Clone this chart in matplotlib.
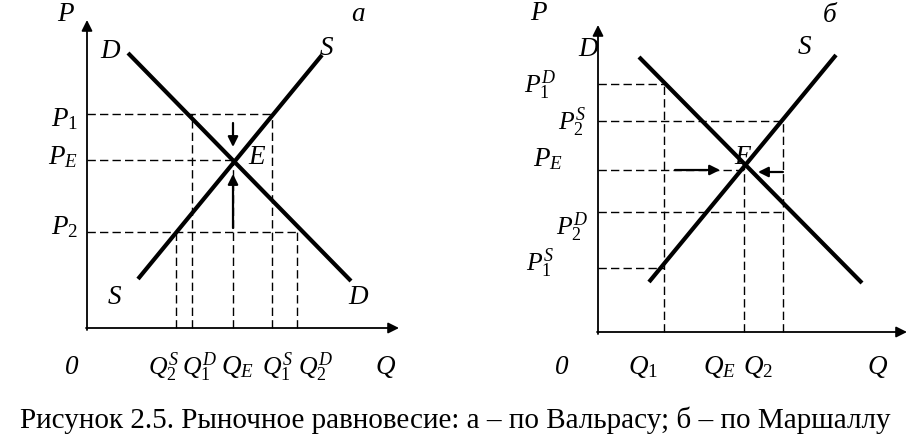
import matplotlib
matplotlib.use("Agg")
import matplotlib.pyplot as plt

plt.rcParams['mathtext.fontset'] = 'custom'
plt.rcParams['mathtext.it'] = 'Liberation Serif:italic'
plt.rcParams['mathtext.rm'] = 'Liberation Serif'
plt.rcParams['mathtext.bf'] = 'Liberation Serif:bold'

# ---------------- Panel a (Walras) ----------------
a_demand_q = [4.1, 26.4]
a_demand_p = [27.5, 4.7]
a_supply_q = [5.1, 23.5]
a_supply_p = [4.9, 27.3]
a_price_levels = [21.4, 16.8, 9.6]          # P1, PE, P2
a_price_ends = [18.5, 14.6, 21.0]           # where each dashed price line ends (Q)
a_qty_levels = [8.9, 10.5, 14.6, 18.5, 21.0]  # Q2S, Q1D, QE, Q1S, Q2D
a_qty_tops = [9.6, 21.4, 16.7, 21.4, 9.6]
a_arrow_down = [20.5, 18.1]
a_arrow_up = [10.0, 15.4]
a_axis_end = [31.2, 30.8]
a_price_labels = [r'$P_{\mathit{1}}$', r'$P_E$', r'$P_{\mathit{2}}$']
a_qty_labels = [r'$Q_2^S$', r'$Q_1^D$', r'$Q_E$', r'$Q_1^S$', r'$Q_2^D$']

# ---------------- Panel b (Marshall) ----------------
b_demand_q = [4.1, 26.4]
b_demand_p = [27.5, 4.9]
b_supply_q = [5.1, 23.8]
b_supply_p = [5.0, 27.7]
b_price_levels = [24.8, 21.1, 16.2, 12.0, 6.4]   # P1D, P2S, PE, P2D, P1S
b_price_ends = [6.6, 18.5, 14.6, 18.5, 6.6]
b_qty_levels = [6.6, 14.6, 18.5]                # Q1, QE, Q2
b_qty_tops = [24.8, 16.9, 21.1]
b_arrow_right = [7.7, 12.2]
b_arrow_left = [18.5, 16.0]
b_arrow_left_p = 16.0
b_axis_end = [30.9, 30.7]
b_price_labels = [r'$P_1^D$', r'$P_2^S$', r'$P_E$', r'$P_2^D$', r'$P_1^S$']
b_qty_labels = [r'$Q_{\mathit{1}}$', r'$Q_E$', r'$Q_2$']

caption = "Рисунок 2.5. Рыночное равновесие: а – по Вальрасу; б – по Маршаллу"

W, H = 911, 446
fig = plt.figure(figsize=(W / 100, H / 100), dpi=100)

ITAL = dict(family='Liberation Serif', style='italic', color='black')
BIG = 19.5
SMALL = 18.5
DASH = dict(color='black', lw=1.0, dashes=(6, 3))
CURVE = dict(color='black', lw=3.0, solid_capstyle='butt')


def arrow(ax, x0, y0, x1, y1, lw=1.3, ms=14):
    ax.annotate('', xy=(x1, y1), xytext=(x0, y0),
                arrowprops=dict(arrowstyle='-|>', color='black', lw=lw,
                                mutation_scale=ms, shrinkA=0, shrinkB=0))


def axes_panel(left_px, width_px, ox, oy):
    ax = fig.add_axes([left_px / W, 0, width_px / W, 1])
    ax.set_xlim(-(ox - left_px) / 10, (left_px + width_px - ox) / 10)
    ax.set_ylim(-(H - oy) / 10, oy / 10)
    ax.axis('off')
    return ax


# ---- panel a ----
ax = axes_panel(0, 450, 87, 328)
arrow(ax, 0, -0.2, 0, a_axis_end[1], lw=1.3, ms=16)
arrow(ax, -0.1, 0, a_axis_end[0], 0, lw=1.3, ms=16)
for p, qe in zip(a_price_levels, a_price_ends):
    ax.plot([0, qe], [p, p], **DASH)
for q, top in zip(a_qty_levels, a_qty_tops):
    ax.plot([q, q], [0, top], **DASH)
ax.plot(a_demand_q, a_demand_p, **CURVE)
ax.plot(a_supply_q, a_supply_p, **CURVE)
qe = a_qty_levels[2]
arrow(ax, qe, a_arrow_down[0], qe, a_arrow_down[1], lw=1.6, ms=15)
arrow(ax, qe, a_arrow_up[0], qe, a_arrow_up[1], lw=1.6, ms=15)

ax.text(-2.2, 31.3, 'P', fontsize=BIG, ha='center', va='center', **ITAL)
ax.text(27.1, 31.3, 'а', fontsize=BIG, ha='center', va='center', **ITAL)
ax.text(2.3, 27.6, 'D', fontsize=BIG, ha='center', va='center', **ITAL)
ax.text(23.9, 27.9, 'S', fontsize=BIG, ha='center', va='center', **ITAL)
ax.text(2.8, 3.0, 'S', fontsize=BIG, ha='center', va='center', **ITAL)
ax.text(27.1, 3.1, 'D', fontsize=BIG, ha='center', va='center', **ITAL)
ax.text(17.0, 17.0, 'E', fontsize=BIG, ha='center', va='center', **ITAL)
ax.text(-1.5, -3.9, '0', fontsize=BIG, ha='center', va='center', **ITAL)
ax.text(29.8, -3.9, 'Q', fontsize=BIG, ha='center', va='center', **ITAL)
for lab, y in zip(a_price_labels, [20.9, 17.1, 10.1]):
    ax.text(-0.9, y, lab, fontsize=BIG, ha='right', va='center', color='black')
for lab, x, fs in zip(a_qty_labels, [7.6, 11.3, 15.0, 19.0, 22.9],
                      [SMALL, SMALL, BIG, SMALL, SMALL]):
    ax.text(x, -3.9, lab, fontsize=fs, ha='center', va='center', color='black')

# ---- panel b ----
ax = axes_panel(450, 461, 598, 332)
arrow(ax, 0, -0.2, 0, b_axis_end[1], lw=1.3, ms=16)
arrow(ax, -0.1, 0, b_axis_end[0], 0, lw=1.3, ms=16)
for p, qe in zip(b_price_levels, b_price_ends):
    ax.plot([0, qe], [p, p], **DASH)
for q, top in zip(b_qty_levels, b_qty_tops):
    ax.plot([q, q], [0, top], **DASH)
ax.plot(b_demand_q, b_demand_p, **CURVE)
ax.plot(b_supply_q, b_supply_p, **CURVE)
pe = b_price_levels[2]
arrow(ax, b_arrow_right[0], pe, b_arrow_right[1], pe, lw=1.6, ms=15)
arrow(ax, b_arrow_left[0], b_arrow_left_p, b_arrow_left[1], b_arrow_left_p, lw=1.6, ms=15)

ax.text(-6.0, 31.9, 'P', fontsize=BIG, ha='center', va='center', **ITAL)
ax.text(23.2, 31.7, 'б', fontsize=BIG, ha='center', va='center', **ITAL)
ax.text(-1.0, 28.2, 'D', fontsize=BIG, ha='center', va='center', **ITAL)
ax.text(20.7, 28.4, 'S', fontsize=BIG, ha='center', va='center', **ITAL)
ax.text(14.5, 17.5, 'E', fontsize=BIG, ha='center', va='center', **ITAL)
ax.text(-3.6, -3.5, '0', fontsize=BIG, ha='center', va='center', **ITAL)
ax.text(27.9, -3.5, 'Q', fontsize=BIG, ha='center', va='center', **ITAL)
for lab, x, y, fs in zip(b_price_labels, [-5.8, -2.6, -5.0, -2.6, -5.8],
                         [24.7, 21.0, 17.3, 10.5, 6.9],
                         [SMALL, SMALL, BIG, SMALL, SMALL]):
    ax.text(x, y, lab, fontsize=fs, ha='center', va='center', color='black')
for lab, x in zip(b_qty_labels, [4.5, 12.1, 16.0]):
    ax.text(x, -3.5, lab, fontsize=BIG, ha='center', va='center', color='black')

fig.text(455 / W, 1 - 420 / H, caption, fontsize=21, family='Liberation Serif',
         ha='center', va='center', color='black')

fig.savefig('out.png', dpi=100, facecolor='white')
